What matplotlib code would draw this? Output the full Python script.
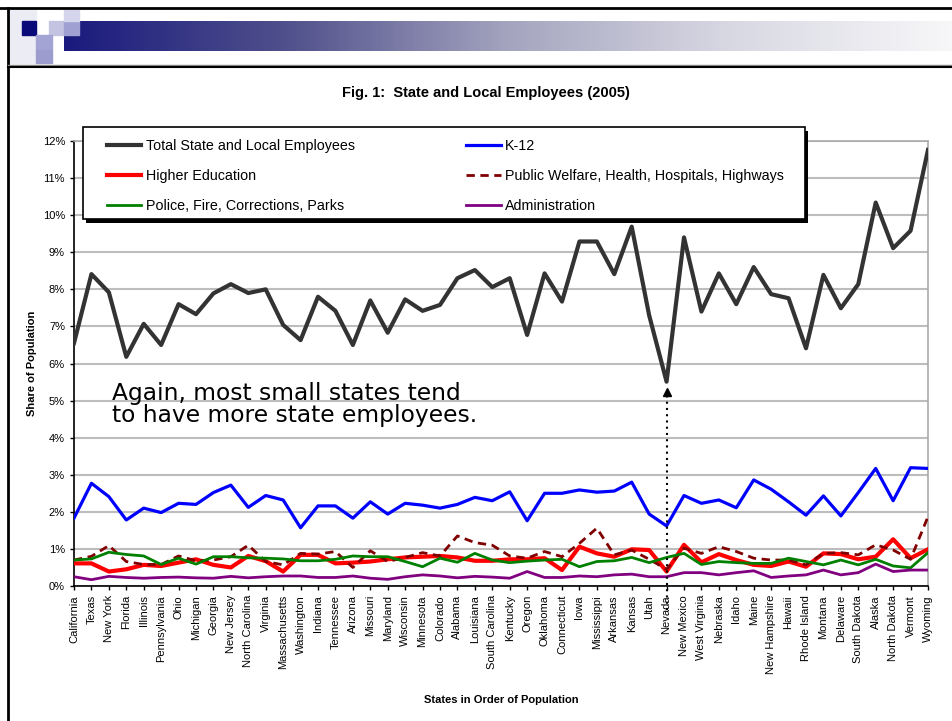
import matplotlib.pyplot as plt
import numpy as np
from matplotlib.patches import Rectangle
from matplotlib.colors import LinearSegmentedColormap

states = ["California", "Texas", "New York", "Florida", "Illinois", "Pennsylvania", "Ohio",
          "Michigan", "Georgia", "New Jersey", "North Carolina", "Virginia", "Massachusetts",
          "Washington", "Indiana", "Tennessee", "Arizona", "Missouri", "Maryland", "Wisconsin",
          "Minnesota", "Colorado", "Alabama", "Louisiana", "South Carolina", "Kentucky", "Oregon",
          "Oklahoma", "Connecticut", "Iowa", "Mississippi", "Arkansas", "Kansas", "Utah", "Nevada",
          "New Mexico", "West Virginia", "Nebraska", "Idaho", "Maine", "New Hampshire", "Hawaii",
          "Rhode Island", "Montana", "Delaware", "South Dakota", "Alaska", "North Dakota",
          "Vermont", "Wyoming"]

# shares of population, in %
total = [6.55, 8.41, 7.92, 6.18, 7.07, 6.50, 7.60, 7.33, 7.89, 8.14,
         7.90, 8.00, 7.04, 6.63, 7.80, 7.42, 6.50, 7.70, 6.83, 7.73,
         7.42, 7.58, 8.30, 8.52, 8.06, 8.30, 6.77, 8.43, 7.67, 9.29,
         9.29, 8.41, 9.69, 7.30, 5.51, 9.40, 7.40, 8.43, 7.60, 8.60,
         7.87, 7.76, 6.41, 8.39, 7.49, 8.14, 10.34, 9.11, 9.58, 11.76]
k12 = [1.83, 2.77, 2.41, 1.78, 2.10, 1.98, 2.23, 2.20, 2.52, 2.72,
       2.12, 2.44, 2.32, 1.57, 2.16, 2.16, 1.83, 2.27, 1.94, 2.23,
       2.18, 2.10, 2.20, 2.39, 2.30, 2.54, 1.76, 2.50, 2.50, 2.59,
       2.53, 2.56, 2.80, 1.94, 1.62, 2.44, 2.23, 2.32, 2.11, 2.86,
       2.61, 2.27, 1.91, 2.43, 1.89, 2.52, 3.17, 2.30, 3.19, 3.17]
higher_ed = [0.61, 0.61, 0.39, 0.45, 0.57, 0.54, 0.63, 0.72, 0.57, 0.50,
             0.81, 0.67, 0.39, 0.84, 0.84, 0.61, 0.63, 0.66, 0.72, 0.77,
             0.79, 0.81, 0.77, 0.68, 0.68, 0.72, 0.72, 0.75, 0.43, 1.06,
             0.88, 0.79, 0.99, 0.97, 0.39, 1.11, 0.64, 0.86, 0.70, 0.57,
             0.54, 0.66, 0.52, 0.88, 0.86, 0.72, 0.79, 1.26, 0.75, 0.99]
welfare = [0.70, 0.80, 1.09, 0.66, 0.58, 0.58, 0.81, 0.68, 0.70, 0.79,
           1.10, 0.66, 0.57, 0.88, 0.86, 0.93, 0.50, 0.95, 0.66, 0.77,
           0.90, 0.81, 1.35, 1.17, 1.10, 0.81, 0.75, 0.93, 0.79, 1.15,
           1.56, 0.84, 0.97, 0.72, 0.45, 1.02, 0.88, 1.06, 0.93, 0.75,
           0.70, 0.70, 0.57, 0.88, 0.90, 0.84, 1.11, 0.97, 0.72, 1.87]
police = [0.70, 0.73, 0.91, 0.85, 0.81, 0.58, 0.75, 0.59, 0.79, 0.79,
          0.76, 0.75, 0.73, 0.68, 0.68, 0.72, 0.81, 0.79, 0.79, 0.66,
          0.52, 0.75, 0.64, 0.88, 0.70, 0.63, 0.67, 0.70, 0.72, 0.52,
          0.66, 0.68, 0.77, 0.63, 0.77, 0.88, 0.58, 0.66, 0.63, 0.61,
          0.61, 0.75, 0.66, 0.57, 0.70, 0.57, 0.72, 0.54, 0.49, 0.90]
admin = [0.25, 0.17, 0.26, 0.23, 0.21, 0.23, 0.24, 0.22, 0.21, 0.26,
         0.22, 0.25, 0.27, 0.27, 0.23, 0.23, 0.27, 0.21, 0.18, 0.25,
         0.30, 0.27, 0.22, 0.26, 0.24, 0.21, 0.39, 0.23, 0.23, 0.27,
         0.25, 0.30, 0.32, 0.25, 0.25, 0.36, 0.36, 0.30, 0.36, 0.41,
         0.23, 0.27, 0.30, 0.43, 0.30, 0.36, 0.59, 0.39, 0.43, 0.43]

labels = ["Total State and Local Employees", "Higher Education",
          "Police, Fire, Corrections, Parks", "K-12",
          "Public Welfare, Health, Hospitals, Highways", "Administration"]

plt.rcParams['font.family'] = ['Liberation Sans', 'DejaVu Sans']

fig = plt.figure(figsize=(9.52, 7.21), dpi=100)

# slide decoration (pixel coordinates overlay)
deco = fig.add_axes([0, 0, 1, 1], zorder=-5)
deco.set_xlim(0, 952)
deco.set_ylim(721, 0)
deco.axis('off')
grad_cmap = LinearSegmentedColormap.from_list(
    'hdr', ['#1a1a7e', '#50508c', '#a4a4bf', '#d8d8e3', '#f7f7f9'])
deco.imshow(np.linspace(0, 1, 256)[None, :], cmap=grad_cmap, aspect='auto',
            extent=(64, 952, 51, 21), zorder=1)
deco.add_patch(Rectangle((9, 10), 27, 53, color='#ececf5', zorder=0))
deco.add_patch(Rectangle((22, 21), 14, 14, color='#0a0a78', zorder=2))
deco.add_patch(Rectangle((49, 21), 15, 14, color='#c4c4e2', zorder=2))
deco.add_patch(Rectangle((64, 21), 15, 14, color='#a0a0d2', zorder=2))
deco.add_patch(Rectangle((64, 10), 15, 11, color='#d4d4ec', zorder=2))
deco.add_patch(Rectangle((36, 35), 16, 15, color='#a4a4d4', zorder=2))
deco.add_patch(Rectangle((36, 50), 16, 13, color='#9c9cce', zorder=2))
deco.plot([0, 952], [8, 8], color='black', lw=2, zorder=3)
deco.plot([8, 8], [8, 721], color='black', lw=2, zorder=3)
deco.plot([8, 952], [65, 65], color='#888888', lw=1, zorder=3)
deco.plot([8, 952], [67, 67], color='black', lw=1.5, zorder=3)

fig.text(0.51, 1 - 93 / 721, "Fig. 1:  State and Local Employees (2005)",
         ha='center', va='center', fontsize=10.5, fontweight='bold')

ax = fig.add_axes([74 / 952, 1 - 586 / 721, 854 / 952, 445 / 721])
x = np.arange(len(states))

h_total, = ax.plot(x, total, color='#333333', lw=3.0, zorder=5)
h_k12, = ax.plot(x, k12, color='#0000ff', lw=2.3, zorder=5)
h_he, = ax.plot(x, higher_ed, color='#ff0000', lw=3.0, zorder=4)
h_wel, = ax.plot(x, welfare, color='#800000', lw=2.0, ls=(0, (3, 2)), zorder=5)
h_pol, = ax.plot(x, police, color='#008000', lw=2.0, zorder=6)
h_adm, = ax.plot(x, admin, color='#800080', lw=2.0, zorder=6)

ax.set_xlim(0, len(states) - 1)
ax.set_ylim(0, 12)
ax.set_yticks(range(0, 13))
ax.set_yticklabels([f"{v}%" for v in range(0, 13)], fontsize=8)
ax.set_xticks(x)
ax.set_xticklabels(states, rotation=90, fontsize=8)
ax.tick_params(axis='both', length=3, width=1, direction='out')
ax.grid(axis='y', color='#bdbdbd', lw=1.5, zorder=0)
ax.set_axisbelow(True)
for side in ['top', 'right']:
    ax.spines[side].set_color('#aaaaaa')
    ax.spines[side].set_linewidth(1.2)
for side in ['left', 'bottom']:
    ax.spines[side].set_color('black')
    ax.spines[side].set_linewidth(1.2)

ax.set_ylabel("Share of Population", fontsize=8, fontweight='bold', labelpad=4)
ax.set_xlabel("States in Order of Population", fontsize=8, fontweight='bold', labelpad=15)

# arrow pointing at Nevada
nv = states.index("Nevada")
ax.plot([nv, nv], [-0.65, 5.15], color='black', ls=(0, (1, 2)), lw=1.5,
        clip_on=False, zorder=7)
ax.plot([nv], [5.22], marker='^', color='black', ms=6, clip_on=False, zorder=7)

ax.text(2.2, 5.5, "Again, most small states tend\nto have more state employees.",
        fontsize=16.8, family='DejaVu Sans', ha='left', va='top', linespacing=0.95,
        zorder=8)

# legend box with hard black shadow
bx0, bx1 = 9 / 854, 731 / 854
by0, by1 = 367 / 445, 459 / 445
ax.add_patch(Rectangle((bx0 + 3 / 854, by0 - 4 / 445), bx1 - bx0, by1 - by0,
                       transform=ax.transAxes, facecolor='black', edgecolor='none',
                       clip_on=False, zorder=9))
ax.add_patch(Rectangle((bx0, by0), bx1 - bx0, by1 - by0, transform=ax.transAxes,
                       facecolor='white', edgecolor='black', lw=1.2,
                       clip_on=False, zorder=9.5))

leg = ax.legend([h_total, h_he, h_pol, h_k12, h_wel, h_adm], labels, ncol=2,
                loc='upper left', bbox_to_anchor=(bx0 + 24 / 854, 1.004),
                fontsize=10.3, frameon=False, borderpad=0, borderaxespad=0,
                handlelength=2.4, handletextpad=0.3, labelspacing=1.1,
                columnspacing=7.8)
leg.set_zorder(10)

fig.savefig("out.png", dpi=100)
